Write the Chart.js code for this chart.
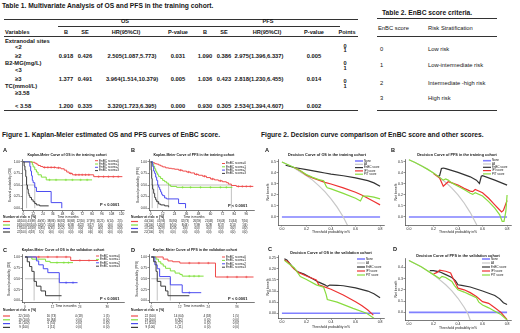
<!DOCTYPE html>
<html>
<head>
<meta charset="utf-8">
<title>EnBC score</title>
<script src="https://cdn.jsdelivr.net/npm/chart.js@4.4.1/dist/chart.umd.min.js"></script>
<style>
  body { margin: 0; width: 520px; height: 333px; position: relative; overflow: hidden; background: #fff;
         font-family: "Liberation Sans", Arial, sans-serif; color: #151515; }
  .t { position: absolute; white-space: nowrap; line-height: 1; }
  .r { position: absolute; background: #333; }
  canvas { position: absolute; }
</style>
</head>
<body>
<script>
// Table 1 - analyse multivariée
var t1Headers = ['B', 'SE', 'HR(95%CI)', 'P-value', 'B', 'SE', 'HR(95%CI)', 'P-value'];
var t1Labels = ['Extranodal sites', '<2', '≥2', 'B2-MG(mg/L)', '<3', '≥3', 'TC(mmol/L)', '≥3.58', '< 3.58'];
var t1Extranodal = ['0.918', '0.426', '2.505(1.087,5.773)', '0.031', '1.090', '0.386', '2.975(1.396,6.337)', '0.005'];
var t1B2MG = ['1.377', '0.491', '3.964(1.514,10.379)', '0.005', '1.036', '0.423', '2.818(1.230,6.455)', '0.014'];
var t1TC = ['1.200', '0.335', '3.320(1.723,6.395)', '0.000', '0.930', '0.305', '2.534(1.394,4.607)', '0.002'];
var t1Points = ['0', '1', '0', '1', '0', '1'];

// Table 2 - score EnBC
var t2Scores = ['0', '1', '2', '3'];
var t2Risk = ['Low risk', 'Low-intermediate risk', 'Intermediate -high risk', 'High risk'];

// Figure 1 - courbes de Kaplan-Meier [mois, survie]
var kmLabels = ['EnBC score=0', 'EnBC score=1', 'EnBC score=2', 'EnBC score=3'];
var osTrain0 = [[0,1],[10,0.99],[14,0.97],[16,0.95],[18,0.92],[21,0.9],[24,0.88],[40,0.87],[46,0.85],[50,0.82],[53,0.78],[56,0.75],[60,0.72],[86,0.68],[121,0.68]];
var osTrain1 = [[0,1],[11,0.94],[12,0.89],[14,0.83],[16,0.78],[18,0.72],[22,0.67],[28,0.61],[84,0.61]];
var osTrain2 = [[0,1],[8,0.9],[9,0.8],[10,0.7],[11,0.6],[12,0.55],[14,0.45],[16,0.36],[34,0.12],[47,0]];
var osTrain3 = [[0,1],[1,0.91],[2,0.82],[3,0.68],[4,0.5],[5,0.41],[6,0.32],[7,0.27],[8,0.23],[10,0.18],[12,0.14],[14,0.1],[16,0.07],[20,0.05],[31,0.05]];
var osTrainMedians = [4, 14];
var osTrainCensor = [[26,30,34,38,43,58,64,68,72,76,80,92,98,104,110,116], [32,40,52,60,70,78], [], []];

var pfsTrain0 = [[0,1],[2,0.98],[4,0.96],[6,0.95],[8,0.93],[10,0.91],[12,0.89],[15,0.87],[18,0.86],[21,0.85],[24,0.84],[28,0.82],[32,0.8],[36,0.78],[40,0.76],[44,0.73],[48,0.71],[52,0.69],[56,0.66],[60,0.63],[64,0.61],[68,0.59],[72,0.57],[76,0.55],[78,0.52],[81,0.49],[86,0.47],[103,0.47]];
var pfsTrain1 = [[0,1],[2,0.95],[3,0.9],[4,0.85],[5,0.8],[6,0.76],[7,0.72],[8,0.68],[10,0.64],[12,0.6],[14,0.57],[16,0.54],[18,0.5],[20,0.47],[26,0.45],[82,0.45]];
var pfsTrain2 = [[0,1],[2,0.9],[3,0.8],[4,0.75],[5,0.67],[6,0.6],[7,0.5],[8,0.45],[9,0.4],[10,0.35],[11,0.3],[12,0.27],[14,0.22],[16,0.2],[28,0.1],[35,0]];
var pfsTrain3 = [[0,1],[0.5,0.82],[1,0.64],[1.5,0.5],[2,0.41],[3,0.32],[4,0.23],[5,0.18],[6,0.14],[8,0.09],[10,0.07],[14,0.05],[18,0.03]];
var pfsTrainMedians = [1.5, 7, 18, 81];
var pfsTrainCensor = [[30,38,46,54,62,70,88,92,96,100], [32,40,50,60,70,76], [], []];

var osValid0 = [[0,1],[20,0.92],[32,0.92]];
var osValid1 = [[0,1],[3,0.95],[9,0.9],[11,0.87],[21,0.87]];
var osValid2 = [[0,1],[5,0.91],[6,0.82],[8,0.73],[10,0.64],[15,0.41],[23,0.41]];
var osValid3 = [[0,1],[1,0.89],[2,0.78],[3,0.67],[4,0.44],[5,0.33],[7,0.22],[9,0.11],[16,0.11]];
var osValidMedians = [4, 15];
var osValidCensor = [[6,10,14,18,24,28], [14,17,19], [18,21], []];

var pfsValid0 = [[0,1],[5,0.95],[7,0.91],[9,0.89],[12,0.86],[27,0.54],[43,0.54]];
var pfsValid1 = [[0,1],[2,0.95],[3,0.89],[4,0.84],[5,0.79],[6,0.74],[8,0.68],[10,0.63],[12,0.6],[13,0.56],[22,0.56]];
var pfsValid2 = [[0,1],[1.5,0.82],[2.5,0.73],[3.5,0.55],[8,0.36],[13,0.18],[21,0.18]];
var pfsValid3 = [[0,1],[1,0.89],[2,0.67],[2.5,0.44],[4,0.33],[6,0.22],[7,0.11],[16,0.11]];
var pfsValidMedians = [2.5, 8];
var pfsValidCensor = [[16,20,24,32,36,40], [16,18,20], [16], []];

// ticks
var monthsOsTrain = [0,12,24,36,48,60,72,84,96,108,120];
var monthsPfsTrain = [0,12,24,36,48,60,72,84,96];
var monthsValid = [0,12,24,36];
var survTicks = [0,0.25,0.5,0.75,1];

// Number at risk: n (%)
var riskOsTrain = [
  ['44(100)','43(98)','40(91)','38(86)','36(82)','30(68)','22(50)','17(39)','11(25)','6(14)','2(5)'],
  ['18(100)','18(100)','12(67)','11(61)','8(44)','6(33)','4(22)','3(17)','1(6)','0(0)','0(0)'],
  ['17(100)','10(59)','6(35)','6(35)','2(12)','0(0)','0(0)','0(0)','0(0)','0(0)','0(0)'],
  ['22(100)','4(18)','1(5)','0(0)','0(0)','0(0)','0(0)','0(0)','0(0)','0(0)','0(0)']];
var riskPfsTrain = [
  ['44(100)','41(93)','35(80)','32(73)','26(59)','21(48)','19(43)','15(34)','7(16)'],
  ['18(100)','12(67)','9(50)','8(44)','7(39)','5(28)','3(17)','2(11)','1(6)'],
  ['17(100)','5(29)','3(18)','1(6)','0(0)','0(0)','0(0)','0(0)','0(0)'],
  ['22(100)','2(9)','0(0)','0(0)','0(0)','0(0)','0(0)','0(0)','0(0)']];
var riskOsValid = [
  ['22 (100)','16 (73)','4 (18)','1 (5)'],
  ['19 (100)','16 (84)','0 (0)','0 (0)'],
  ['11 (100)','6 (55)','0 (0)','0 (0)'],
  ['9 (100)','1 (11)','0 (0)','0 (0)']];
var riskPfsValid = [
  ['22 (100)','14 (64)','4 (18)','1 (5)'],
  ['19 (100)','6 (32)','0 (0)','0 (0)'],
  ['11 (100)','3 (27)','0 (0)','0 (0)'],
  ['9 (100)','1 (11)','0 (0)','0 (0)']];

// Figure 2 - courbes de décision [seuil, bénéfice net]
var dcaLabels = ['None', 'All', 'EnBC score', 'IPI score', 'PIT score'];
var dcaNone = [[0,0],[0.8,0]];
var dcaOsTrainAll = [[0,0.5],[0.05,0.475],[0.1,0.445],[0.15,0.41],[0.2,0.375],[0.25,0.335],[0.3,0.285],[0.35,0.23],[0.4,0.165],[0.45,0.09],[0.5,0],[0.55,-0.11]];
var dcaOsTrainEnbc = [[0.03,0.47],[0.1,0.45],[0.2,0.43],[0.3,0.41],[0.35,0.4],[0.4,0.39],[0.5,0.375],[0.6,0.355],[0.7,0.33],[0.75,0.31],[0.8,0.28]];
var dcaOsTrainIpi = [[0.1,0.45],[0.15,0.42],[0.2,0.38],[0.25,0.355],[0.3,0.335],[0.35,0.315],[0.4,0.3],[0.5,0.265],[0.6,0.225],[0.65,0.2],[0.7,0.17],[0.75,0.14],[0.8,0.11]];
var dcaOsTrainPit = [[0,0.5],[0.05,0.475],[0.1,0.45],[0.15,0.42],[0.2,0.385],[0.25,0.36],[0.3,0.34],[0.34,0.33],[0.36,0.28],[0.37,0.265],[0.4,0.255],[0.5,0.215],[0.6,0.17],[0.64,0.145],[0.66,0.19],[0.7,0.19],[0.75,0.18],[0.8,0.165]];

var dcaPfsTrainAll = [[0,0.52],[0.05,0.495],[0.1,0.467],[0.15,0.435],[0.2,0.4],[0.25,0.36],[0.3,0.314],[0.35,0.262],[0.4,0.2],[0.45,0.127],[0.5,0.04],[0.55,-0.067],[0.57,-0.12]];
var dcaPfsTrainEnbc = [[0.23,0.37],[0.25,0.375],[0.265,0.44],[0.28,0.445],[0.3,0.44],[0.4,0.405],[0.5,0.365],[0.55,0.335],[0.575,0.305],[0.59,0.37],[0.6,0.375],[0.7,0.335],[0.8,0.29]];
var dcaPfsTrainIpi = [[0.2,0.395],[0.25,0.355],[0.28,0.28],[0.3,0.3],[0.32,0.32],[0.35,0.31],[0.4,0.29],[0.45,0.26],[0.5,0.235],[0.52,0.23],[0.54,0.25],[0.6,0.22],[0.65,0.17],[0.7,0.11],[0.73,0.075],[0.755,0.045],[0.77,0.06],[0.8,0.15]];
var dcaPfsTrainPit = [[0,0.52],[0.05,0.495],[0.1,0.465],[0.15,0.435],[0.2,0.4],[0.25,0.36],[0.28,0.335],[0.3,0.345],[0.32,0.335],[0.35,0.31],[0.4,0.28],[0.45,0.25],[0.5,0.215],[0.52,0.205],[0.54,0.22],[0.6,0.19],[0.65,0.14],[0.7,0.08],[0.74,0.02],[0.76,-0.04],[0.775,-0.04],[0.79,0.05],[0.8,0.2]];

var dcaOsValidAll = [];
var dcaOsValidEnbc = [[0.02,0.245],[0.04,0.24],[0.07,0.22],[0.1,0.2],[0.13,0.186],[0.18,0.176],[0.25,0.155],[0.3,0.14],[0.35,0.128],[0.37,0.121],[0.39,0.127],[0.45,0.126],[0.5,0.124],[0.6,0.114],[0.7,0.1],[0.75,0.088],[0.8,0.07]];
var dcaOsValidIpi = [[0.02,0.24],[0.05,0.232],[0.08,0.21],[0.13,0.185],[0.2,0.168],[0.28,0.15],[0.3,0.128],[0.33,0.122],[0.4,0.108],[0.5,0.082],[0.6,0.052],[0.65,0.035],[0.7,0.015],[0.745,-0.008]];
var dcaOsValidPit = [[0.02,0.238],[0.05,0.225],[0.1,0.205],[0.15,0.165],[0.2,0.152],[0.28,0.128],[0.34,0.117],[0.36,0.085],[0.37,0.062],[0.45,0.05],[0.58,0.022],[0.69,0],[0.75,-0.022]];

var dcaPfsValidAll = [[0,0.46],[0.1,0.405],[0.2,0.335],[0.3,0.245],[0.35,0.19],[0.4,0.125],[0.45,0.045],[0.48,-0.01],[0.5,-0.07]];
var dcaPfsValidEnbc = [[0.17,0.37],[0.2,0.37],[0.25,0.36],[0.3,0.335],[0.35,0.31],[0.38,0.28],[0.4,0.245],[0.43,0.24],[0.5,0.225],[0.6,0.19],[0.7,0.15],[0.74,0.12],[0.77,0.085],[0.8,0.07]];
var dcaPfsValidIpi = [[0.2,0.34],[0.23,0.355],[0.25,0.375],[0.3,0.365],[0.34,0.35],[0.36,0.3],[0.38,0.26],[0.4,0.215],[0.45,0.2],[0.5,0.175],[0.55,0.14],[0.6,0.095],[0.65,0.08],[0.7,0.04],[0.75,0],[0.8,-0.065]];
var dcaPfsValidPit = [[0,0.46],[0.1,0.405],[0.2,0.335],[0.25,0.3],[0.27,0.32],[0.3,0.31],[0.35,0.275],[0.37,0.24],[0.4,0.2],[0.45,0.18],[0.5,0.155],[0.55,0.13],[0.57,0.09],[0.6,0.065],[0.65,0.04],[0.7,0.01],[0.75,-0.02],[0.8,-0.068]];

var thresholdTicks = [0,0.2,0.4,0.6,0.8];

// couleurs
var kmColors = ['#ef4b4b', '#80e03c', '#4b4bf0', '#3c3c3c'];
var dcaColors = ['#8080ff', '#c8c8c8', '#333333', '#ee3232', '#88dc3e'];

Chart.defaults.font.family = '"Liberation Sans", Arial, sans-serif';
Chart.defaults.color = '#222';

// ---------- tableaux en HTML ----------
function put(text, x, y, size, o) {
  o = o || {};
  var d = document.createElement('div');
  d.className = 't';
  d.textContent = text;
  d.style.left = x + 'px';
  d.style.top = y + 'px';
  d.style.fontSize = size + 'px';
  if (o.bold) d.style.fontWeight = 'bold';
  d.style.transform = o.center ? 'translate(-50%,-50%)' : 'translateY(-50%)';
  document.body.appendChild(d);
}
function hr(x1, x2, y, w) {
  var d = document.createElement('div');
  d.className = 'r';
  d.style.left = x1 + 'px';
  d.style.width = (x2 - x1) + 'px';
  d.style.top = (y - w / 2) + 'px';
  d.style.height = w + 'px';
  document.body.appendChild(d);
}

put('Table 1. Multivariate Analysis of OS and PFS in the training cohort.', 2, 5.5, 6.7, { bold: true });
hr(4, 358, 19, 0.9);
put('OS', 125, 22.3, 5.6, { bold: true, center: true });
put('PFS', 268, 22.3, 5.6, { bold: true, center: true });
hr(58, 340, 25.8, 0.5);
put('Variables', 5, 32.5, 5.6, { bold: true });
var headX = [66, 85, 126, 178, 205, 224, 267, 314];
t1Headers.forEach(function (h, i) { put(h, headX[i], 32.5, 5.6, { bold: true, center: true }); });
put('Points', 347, 32.5, 5.6, { bold: true, center: true });
hr(4, 358, 36, 0.6);
var rowY = [41.7, 48.3, 57.3, 64, 70.7, 80, 87.3, 94, 107.3];
t1Labels.forEach(function (l, i) { put(l, i % 3 === 0 ? 5 : 15, rowY[i], 5.8, { bold: true }); });
var valX = [66, 85, 132, 178, 205, 224, 259, 314];
[[2, t1Extranodal], [5, t1B2MG], [8, t1TC]].forEach(function (r) {
  r[1].forEach(function (v, j) { put(v, valX[j], rowY[r[0]], 5.8, { bold: true, center: true }); });
});
var pointsY = [46.7, 51, 64.3, 69, 81.7, 87.3];
t1Points.forEach(function (v, i) { put(v, 345, pointsY[i], 5.6, { bold: true, center: true }); });
hr(4, 358, 110, 0.9);

put('Table 2. EnBC score criteria.', 382, 13, 6.7, { bold: true });
hr(377, 497, 18.3, 0.9);
put('EnBC score', 378, 29, 5.8);
put('Risk Stratification', 428, 29, 5.8);
hr(377, 497, 36, 0.6);
var t2Y = [50, 66, 84, 99];
t2Scores.forEach(function (s, i) {
  put(s, 380, t2Y[i], 5.8);
  put(t2Risk[i], 428, t2Y[i], 5.8);
});
hr(377, 497, 110, 0.9);

put('Figure 1. Kaplan-Meier estimated OS and PFS curves of EnBC score.', 2, 134.5, 6.7, { bold: true });
put('Figure 2. Decision curve comparison of EnBC score and other scores.', 261, 134.5, 6.7, { bold: true });

// ---------- graphiques ----------
function toXY(p) { return { x: p[0], y: p[1] }; }
function stepAt(curve, t) {
  var v = curve[0][1];
  curve.forEach(function (p) { if (p[0] <= t) v = p[1]; });
  return v;
}

function decoPlugin(p) {
  return {
    id: 'deco',
    afterDraw: function (chart) {
      var ctx = chart.ctx, ox = p.box[0], oy = p.box[1];
      function text(s, x, y, size, bold, align) {
        ctx.font = (bold ? 'bold ' : '') + size + 'px "Liberation Sans", Arial, sans-serif';
        ctx.fillStyle = '#151515';
        ctx.textAlign = align || 'left';
        ctx.textBaseline = 'middle';
        ctx.fillText(s, x - ox, y - oy);
      }
      function seg(x1, x2, y, color, w) {
        ctx.strokeStyle = color;
        ctx.lineWidth = w;
        ctx.beginPath();
        ctx.moveTo(x1 - ox, y - oy);
        ctx.lineTo(x2 - ox, y - oy);
        ctx.stroke();
      }
      ctx.save();
      text(p.letter, p.letterAt[0], p.letterAt[1], 5.6, true);
      text(p.title, p.titleAt[0], p.titleAt[1], p.titleSize, true, 'center');
      var lg = p.legend, k = 0;
      chart.data.datasets.forEach(function (d) {
        if (!d.inLegend) return;
        var y = lg.y + k * lg.dy;
        seg(lg.x, lg.x + lg.w, y, d.borderColor, d.borderWidth);
        text(d.label, lg.x + lg.w + 1, y, lg.size);
        k++;
      });
      if (p.pText) text(p.pText, p.pAt[0], p.pAt[1], 4, true);
      if (p.xLabel) text(p.xLabel, p.xLabelAt[0], p.xLabelAt[1], 3.1, false, 'center');
      if (p.risk) {
        var r = p.risk, xs = chart.scales.x;
        text('Number at risk: n (%)', r.x0, r.headY, 3.3, true);
        r.rows.forEach(function (row, i) {
          var y = r.y0 + i * r.dy;
          seg(r.x0, r.x0 + 7, y, kmColors[i], 1.2);
          row.forEach(function (s, j) {
            text(s, xs.getPixelForValue(p.x.ticks[j]) + ox + r.dx, y, r.size, false, 'center');
          });
        });
      }
      ctx.restore();
    }
  };
}

function axis(ax, size, horizontal) {
  return {
    type: 'linear', min: ax.min, max: ax.max,
    afterBuildTicks: function (s) { s.ticks = ax.ticks.map(function (v) { return { value: v }; }); },
    afterFit: function (s) { if (horizontal) s.height = size; else s.width = size; },
    grid: { drawOnChartArea: false, tickLength: 1.5, color: '#222', lineWidth: 0.5 },
    border: { display: true, color: '#222', width: 0.6 },
    ticks: { font: { size: ax.fontSize }, color: '#222', padding: 0.6, maxRotation: 0, autoSkip: false,
             callback: function (v) { return Number(v).toFixed(ax.dec); } },
    title: ax.title ? { display: true, text: ax.title, font: { size: ax.titleSize }, color: '#222', padding: ax.titlePad }
                    : { display: false }
  };
}

function makeChart(p, datasets) {
  var cv = document.createElement('canvas');
  cv.width = p.box[2];
  cv.height = p.box[3];
  cv.style.left = p.box[0] + 'px';
  cv.style.top = p.box[1] + 'px';
  document.body.appendChild(cv);
  var a = p.area, b = p.box;
  return new Chart(cv.getContext('2d'), {
    type: 'line',
    data: { datasets: datasets },
    options: {
      responsive: false, animation: false, events: [],
      layout: { padding: { left: a[0] - b[0] - p.yW, top: a[1] - b[1], right: b[0] + b[2] - a[2], bottom: b[1] + b[3] - a[3] - p.xH } },
      plugins: { legend: { display: false }, tooltip: { enabled: false } },
      scales: { x: axis(p.x, p.xH, true), y: axis(p.y, p.yW, false) }
    },
    plugins: [decoPlugin(p)]
  });
}

function kmDatasets(curves, medians, censors) {
  var ds = [];
  curves.forEach(function (c, i) {
    ds.push({ label: kmLabels[i], inLegend: true, data: c.map(toXY), stepped: true, borderColor: kmColors[i],
              borderWidth: 1, pointRadius: 0, fill: false, order: 4 - i });
  });
  censors.forEach(function (times, i) {
    ds.push({ data: times.map(function (t) { return { x: t, y: stepAt(curves[i], t) }; }), showLine: false,
              pointStyle: 'cross', pointRadius: 1.2, borderColor: kmColors[i], borderWidth: 0.6, order: 4 - i });
  });
  var last = Math.max.apply(null, medians);
  ds.push({ data: [{ x: 0, y: 0.5 }, { x: last, y: 0.5 }], borderColor: '#a8a8a8', borderWidth: 0.7, pointRadius: 0, order: 10 });
  medians.forEach(function (m) {
    ds.push({ data: [{ x: m, y: 0 }, { x: m, y: 0.5 }], borderColor: '#a8a8a8', borderWidth: 0.7, pointRadius: 0, order: 10 });
  });
  return ds;
}

function dcaDatasets(curves) {
  return curves.map(function (c, i) {
    return { label: dcaLabels[i], inLegend: true, data: c.map(toXY), borderColor: dcaColors[i],
             borderWidth: i === 0 ? 1.6 : 1.2, pointRadius: 0, fill: false, order: 5 - i };
  });
}

function kmY(title, pad) {
  return { min: -0.05, max: 1.05, ticks: survTicks, dec: 2, fontSize: 3.2, title: title, titleSize: 3.2, titlePad: { top: pad } };
}
function dcaX() {
  return { min: -0.032, max: 0.832, ticks: thresholdTicks, dec: 1, fontSize: 3.5, title: 'Threshold probability in%', titleSize: 3.4, titlePad: { top: 0, bottom: 0.3 } };
}

// A - OS entraînement
makeChart({
  box: [0, 145, 130, 92], area: [22, 159.5, 124, 210.5], yW: 22, xH: 5,
  x: { min: -1.6, max: 123, ticks: monthsOsTrain, dec: 0, fontSize: 3.2 },
  y: kmY('Survival probability (OS)', 8),
  letter: 'A', letterAt: [3, 150], title: 'Kaplan-Meier Curve of OS in the training cohort', titleAt: [67, 155], titleSize: 3.5,
  legend: { x: 95, y: 160.7, dy: 3.3, w: 3, size: 3.1 },
  pText: 'P < 0.0001', pAt: [100, 205], xLabel: 'Time in months', xLabelAt: [68, 217],
  risk: { x0: 3, headY: 217.5, y0: 221.5, dy: 3.5, size: 2.8, dx: -1.5, rows: riskOsTrain }
}, kmDatasets([osTrain0, osTrain1, osTrain2, osTrain3], osTrainMedians, osTrainCensor));

// B - PFS entraînement
makeChart({
  box: [128, 145, 132, 92], area: [149, 159.5, 254, 210.5], yW: 21, xH: 5,
  x: { min: -1.7, max: 103.7, ticks: monthsPfsTrain, dec: 0, fontSize: 3.2 },
  y: kmY('Survival probability (PFS)', 8),
  letter: 'B', letterAt: [131, 150], title: 'Kaplan-Meier Curve of PFS in the training cohort', titleAt: [194, 155], titleSize: 3.5,
  legend: { x: 222, y: 163.5, dy: 3.3, w: 3, size: 3.1 },
  pText: 'P < 0.0001', pAt: [228, 206], xLabel: 'Time in months', xLabelAt: [194, 217],
  risk: { x0: 131, headY: 217.5, y0: 221.5, dy: 3.5, size: 2.8, dx: -1.5, rows: riskPfsTrain }
}, kmDatasets([pfsTrain0, pfsTrain1, pfsTrain2, pfsTrain3], pfsTrainMedians, pfsTrainCensor));

// C - OS validation
makeChart({
  box: [0, 245, 130, 88], area: [22, 254.8, 124, 302.7], yW: 22, xH: 5,
  x: { min: -1.3, max: 43.3, ticks: monthsValid, dec: 0, fontSize: 3.2 },
  y: kmY('Survival probability (OS)', 7),
  letter: 'C', letterAt: [3, 250], title: 'Kaplan-Meier Curve of OS in the validation cohort', titleAt: [63, 250], titleSize: 3.5,
  legend: { x: 96, y: 256, dy: 3.4, w: 3, size: 3.1 },
  pText: 'P < 0.0001', pAt: [100, 299], xLabel: 'Time in months', xLabelAt: [66, 306.5],
  risk: { x0: 3, headY: 310.5, y0: 316, dy: 3.8, size: 3, dx: -1, rows: riskOsValid }
}, kmDatasets([osValid0, osValid1, osValid2, osValid3], osValidMedians, osValidCensor));

// D - PFS validation
makeChart({
  box: [128, 245, 132, 88], area: [149, 254.8, 254, 302.7], yW: 21, xH: 5,
  x: { min: -0.97, max: 43.2, ticks: monthsValid, dec: 0, fontSize: 3.2 },
  y: kmY('Survival probability (PFS)', 7),
  letter: 'D', letterAt: [131, 250], title: 'Kaplan-Meier Curve of PFS in the validation cohort', titleAt: [195, 250], titleSize: 3.5,
  legend: { x: 222, y: 257, dy: 3.4, w: 3, size: 3.1 },
  pText: 'P < 0.0001', pAt: [228, 298.5], xLabel: 'Time in months', xLabelAt: [194, 306.5],
  risk: { x0: 131, headY: 310.5, y0: 316, dy: 3.8, size: 3, dx: -1, rows: riskPfsValid }
}, kmDatasets([pfsValid0, pfsValid1, pfsValid2, pfsValid3], pfsValidMedians, pfsValidCensor));

// Figure 2 A
makeChart({
  box: [260, 145, 128, 92], area: [278, 159, 384, 225], yW: 18, xH: 9,
  x: dcaX(),
  y: { min: -0.073, max: 0.527, ticks: [0, 0.1, 0.2, 0.3, 0.4, 0.5], dec: 1, fontSize: 3.5, title: 'Net benefit', titleSize: 3.5, titlePad: { top: 6 } },
  letter: 'A', letterAt: [265, 150], title: 'Decision Curve of OS in the training cohort', titleAt: [327, 155], titleSize: 3.8,
  legend: { x: 355, y: 161, dy: 3.3, w: 8, size: 2.9 }
}, dcaDatasets([dcaNone, dcaOsTrainAll, dcaOsTrainEnbc, dcaOsTrainIpi, dcaOsTrainPit]));

// Figure 2 B
makeChart({
  box: [388, 145, 132, 92], area: [405, 159, 511, 225], yW: 17, xH: 9,
  x: dcaX(),
  y: { min: -0.073, max: 0.527, ticks: [0, 0.1, 0.2, 0.3, 0.4, 0.5], dec: 1, fontSize: 3.5, title: 'Net benefit', titleSize: 3.5, titlePad: { top: 6 } },
  letter: 'B', letterAt: [391, 150], title: 'Decision Curve of PFS in the training cohort', titleAt: [457, 155], titleSize: 3.8,
  legend: { x: 483, y: 160.7, dy: 3.3, w: 8, size: 2.9 }
}, dcaDatasets([dcaNone, dcaPfsTrainAll, dcaPfsTrainEnbc, dcaPfsTrainIpi, dcaPfsTrainPit]));

// Figure 2 C
makeChart({
  box: [260, 245, 128, 88], area: [278, 255.7, 384, 318.3], yW: 18, xH: 11.5,
  x: dcaX(),
  y: { min: -0.0225, max: 0.259, ticks: [0, 0.05, 0.1, 0.15, 0.2, 0.25], dec: 2, fontSize: 3.5, title: 'Net benefit', titleSize: 3.5, titlePad: { top: 6 } },
  letter: 'C', letterAt: [268, 249.5], title: 'Decision Curve of OS in the validation cohort', titleAt: [331, 253], titleSize: 3.8,
  legend: { x: 357, y: 259, dy: 4, w: 8, size: 2.9 }
}, dcaDatasets([dcaNone, dcaOsValidAll, dcaOsValidEnbc, dcaOsValidIpi, dcaOsValidPit]));

// Figure 2 D
makeChart({
  box: [388, 245, 132, 88], area: [405, 258.3, 511, 320], yW: 17, xH: 10,
  x: dcaX(),
  y: { min: -0.068, max: 0.48, ticks: [0, 0.1, 0.2, 0.3, 0.4], dec: 1, fontSize: 3.5, title: 'Net benefit', titleSize: 3.5, titlePad: { top: 6 } },
  letter: 'D', letterAt: [393, 249.5], title: 'Decision Curve of PFS in the validation cohort', titleAt: [458, 255.5], titleSize: 3.8,
  legend: { x: 482, y: 259, dy: 4, w: 8, size: 2.9 }
}, dcaDatasets([dcaNone, dcaPfsValidAll, dcaPfsValidEnbc, dcaPfsValidIpi, dcaPfsValidPit]));
</script>
</body>
</html>
